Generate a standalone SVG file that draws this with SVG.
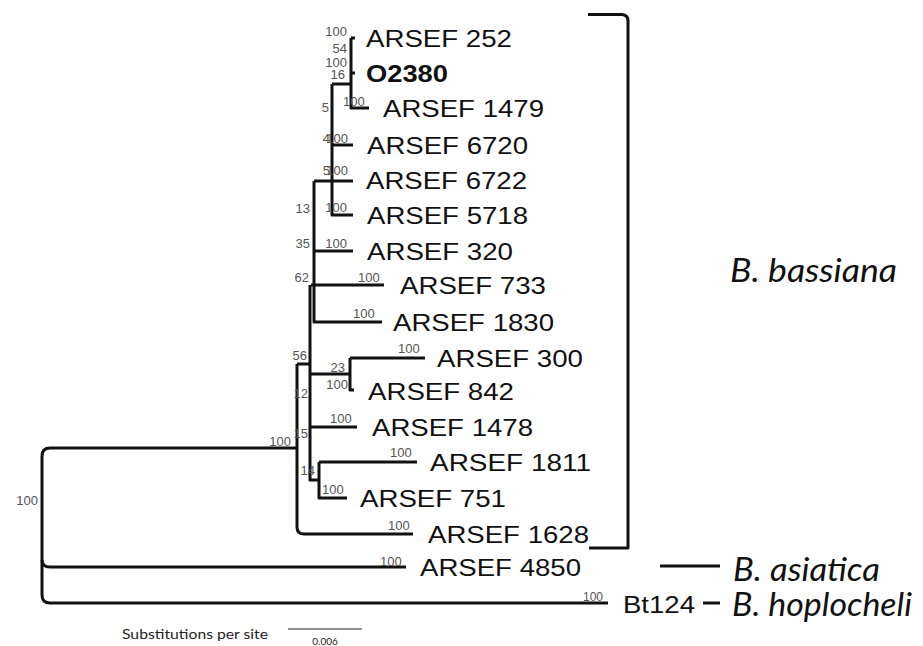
<svg xmlns="http://www.w3.org/2000/svg" width="923" height="646" viewBox="0 0 923 646">
<style>
.br{fill:none;stroke:#111;stroke-width:3;stroke-linecap:butt;stroke-linejoin:round}
.tip{font-family:"Liberation Sans",Arial,sans-serif;font-size:23.5px;fill:#111}
.bold{font-weight:bold}
.bs{font-family:"Liberation Sans",Arial,sans-serif;font-size:13px;fill:#555}
.sp{font-family:Lato,"Open Sans",sans-serif;font-style:italic;font-size:33px;fill:#111}
.sc{font-family:Lato,"Open Sans",sans-serif;font-size:13px;fill:#222}
</style>
<rect width="923" height="646" fill="#fff"/>
<g id="connectors">
<path class="br" d="M351 38H355M351 73H355M351 38V108H369M332 84H351M332 84V215H353M332 145H353M314 181H353M314 181V322H382M314 251H353M311 285H384M310 285V480H319M297 364H310M310 374H350M350 358V390H354M350 358H425M310 427H357M319 462V498H347M319 462H417"/>
<path class="br" d="M297 364V527Q297 534 304 534H413"/>
<path class="br" d="M297 448H50Q42 448 42 456V595Q42 603 50 603H608"/>
<path class="br" d="M42 560Q42 567 50 567H406"/>
<path class="br" d="M588 14.5H622Q628 15 628 21V548H589"/>
<path class="br" d="M660 566H720M703 603H720"/>
<path d="M288 629H362" stroke="#222" stroke-width="1.2"/>
</g>
<g id="tips">
<g id="n252"><text class="tip" x="366" y="47" textLength="146" lengthAdjust="spacingAndGlyphs">ARSEF 252</text></g>
<g id="nO2380"><text class="tip bold" x="366" y="82" textLength="82" lengthAdjust="spacingAndGlyphs">O2380</text></g>
<g id="n1479"><text class="tip" x="383" y="117" textLength="161" lengthAdjust="spacingAndGlyphs">ARSEF 1479</text></g>
<g id="n6720"><text class="tip" x="367" y="154" textLength="161" lengthAdjust="spacingAndGlyphs">ARSEF 6720</text></g>
<g id="n6722"><text class="tip" x="366" y="189" textLength="161" lengthAdjust="spacingAndGlyphs">ARSEF 6722</text></g>
<g id="n5718"><text class="tip" x="367" y="224" textLength="161" lengthAdjust="spacingAndGlyphs">ARSEF 5718</text></g>
<g id="n320"><text class="tip" x="367" y="260" textLength="146" lengthAdjust="spacingAndGlyphs">ARSEF 320</text></g>
<g id="n733"><text class="tip" x="400" y="294" textLength="146" lengthAdjust="spacingAndGlyphs">ARSEF 733</text></g>
<g id="n1830"><text class="tip" x="393" y="331" textLength="161" lengthAdjust="spacingAndGlyphs">ARSEF 1830</text></g>
<g id="n300"><text class="tip" x="437" y="367" textLength="146" lengthAdjust="spacingAndGlyphs">ARSEF 300</text></g>
<g id="n842"><text class="tip" x="368" y="400" textLength="146" lengthAdjust="spacingAndGlyphs">ARSEF 842</text></g>
<g id="n1478"><text class="tip" x="372" y="436" textLength="161" lengthAdjust="spacingAndGlyphs">ARSEF 1478</text></g>
<g id="n1811"><text class="tip" x="430" y="471" textLength="161" lengthAdjust="spacingAndGlyphs">ARSEF 1811</text></g>
<g id="n751"><text class="tip" x="360" y="507" textLength="146" lengthAdjust="spacingAndGlyphs">ARSEF 751</text></g>
<g id="n1628"><text class="tip" x="428" y="543" textLength="161" lengthAdjust="spacingAndGlyphs">ARSEF 1628</text></g>
<g id="n4850"><text class="tip" x="420" y="576" textLength="161" lengthAdjust="spacingAndGlyphs">ARSEF 4850</text></g>
<g id="nBt124"><text class="tip" x="623" y="613" textLength="72" lengthAdjust="spacingAndGlyphs">Bt124</text></g>
</g>
<g id="support">
<text class="bs" x="347" y="35.5" text-anchor="end">100</text>
<text class="bs" x="347" y="52.5" text-anchor="end">54</text>
<text class="bs" x="347" y="66.5" text-anchor="end">100</text>
<text class="bs" x="345" y="78.5" text-anchor="end">16</text>
<text class="bs" x="329" y="111.5" text-anchor="end">5</text>
<text class="bs" x="343" y="105.5">100</text>
<text class="bs" x="348" y="142.5" text-anchor="end">100</text>
<text class="bs" x="330" y="142.5" text-anchor="end">4</text>
<text class="bs" x="348" y="175" text-anchor="end">100</text>
<text class="bs" x="330" y="175" text-anchor="end">5</text>
<text class="bs" x="310" y="212.5" text-anchor="end">13</text>
<text class="bs" x="347" y="211.5" text-anchor="end">100</text>
<text class="bs" x="310" y="247.5" text-anchor="end">35</text>
<text class="bs" x="347" y="247.5" text-anchor="end">100</text>
<text class="bs" x="309" y="281.5" text-anchor="end">62</text>
<text class="bs" x="358" y="281.5">100</text>
<text class="bs" x="353" y="317.5">100</text>
<text class="bs" x="307" y="359.5" text-anchor="end">56</text>
<text class="bs" x="398" y="352.5">100</text>
<text class="bs" x="345" y="371.5" text-anchor="end">23</text>
<text class="bs" x="348" y="388.5" text-anchor="end">100</text>
<text class="bs" x="308" y="397.5" text-anchor="end">12</text>
<text class="bs" x="330" y="422.5">100</text>
<text class="bs" x="308" y="437.5" text-anchor="end">15</text>
<text class="bs" x="291" y="445.5" text-anchor="end">100</text>
<text class="bs" x="390" y="456.5">100</text>
<text class="bs" x="315" y="474.5" text-anchor="end">14</text>
<text class="bs" x="322" y="493.5">100</text>
<text class="bs" x="388" y="529.5">100</text>
<text class="bs" x="380" y="565.5">100</text>
<text class="bs" x="583" y="601" style="font-size:12px">100</text>
<text class="bs" x="38" y="504.5" text-anchor="end">100</text>
</g>
<g id="species">
<text class="sp" x="730" y="282" textLength="167" lengthAdjust="spacingAndGlyphs">B. bassiana</text>
<text class="sp" x="733" y="581" textLength="147" lengthAdjust="spacingAndGlyphs">B. asiatica</text>
<text class="sp" x="732" y="616" textLength="180" lengthAdjust="spacingAndGlyphs">B. hoplocheli</text>
</g>
<g id="scale">
<text class="sc" x="122" y="639" textLength="146" lengthAdjust="spacingAndGlyphs">Substitutions per site</text>
<text class="sc" x="325" y="645" text-anchor="middle" style="font-size:10px">0.006</text>
</g>
</svg>
